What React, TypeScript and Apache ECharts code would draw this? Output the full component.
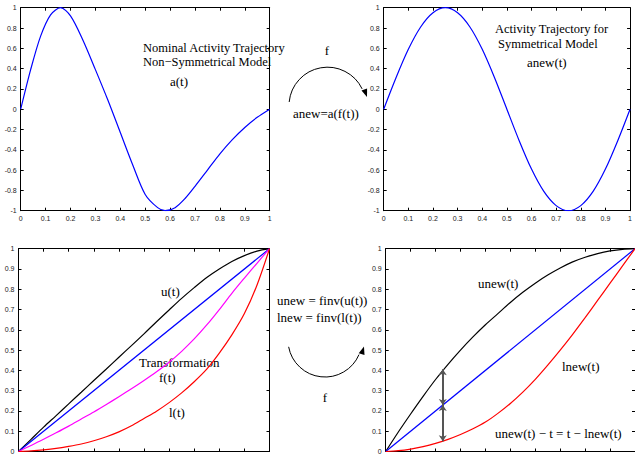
import React, { useEffect, useRef } from "react";
import * as echarts from "echarts";

// ---- data ----
const tNominal = [0, 0.04, 0.08, 0.12, 0.16, 0.2, 0.25, 0.3, 0.35, 0.4, 0.45, 0.5, 0.55, 0.58, 0.62, 0.66, 0.7, 0.75, 0.8, 0.85, 0.9, 0.95, 1];
const aNominal = [0, 0.39, 0.72, 0.93, 1.0, 0.92, 0.68, 0.39, 0.09, -0.23, -0.55, -0.84, -0.97, -1.0, -0.97, -0.88, -0.76, -0.6, -0.44, -0.3, -0.18, -0.08, 0];

const tSym = [0, 0.05, 0.1, 0.15, 0.2, 0.25, 0.3, 0.35, 0.4, 0.45, 0.5, 0.55, 0.6, 0.65, 0.7, 0.75, 0.8, 0.85, 0.9, 0.95, 1];
const aSym = [0, 0.31, 0.59, 0.81, 0.95, 1.0, 0.95, 0.81, 0.59, 0.31, 0, -0.31, -0.59, -0.81, -0.95, -1.0, -0.95, -0.81, -0.59, -0.31, 0];

const tGrid = [0, 0.05, 0.1, 0.15, 0.2, 0.25, 0.3, 0.35, 0.4, 0.45, 0.5, 0.55, 0.6, 0.65, 0.7, 0.75, 0.8, 0.85, 0.9, 0.95, 1];
const uCurve = [0, 0.06, 0.12, 0.177, 0.235, 0.292, 0.35, 0.407, 0.465, 0.522, 0.58, 0.64, 0.698, 0.755, 0.808, 0.858, 0.9, 0.937, 0.966, 0.988, 1];
const fCurve = [0, 0.03, 0.06, 0.092, 0.125, 0.16, 0.195, 0.232, 0.27, 0.309, 0.35, 0.393, 0.44, 0.494, 0.555, 0.624, 0.7, 0.78, 0.855, 0.928, 1];
const lCurve = [0, 0.003, 0.008, 0.015, 0.025, 0.037, 0.053, 0.073, 0.097, 0.127, 0.163, 0.199, 0.241, 0.289, 0.344, 0.406, 0.485, 0.575, 0.68, 0.82, 1];
const unewCurve = [0, 0.095, 0.185, 0.272, 0.355, 0.43, 0.5, 0.565, 0.625, 0.68, 0.735, 0.785, 0.83, 0.87, 0.905, 0.935, 0.958, 0.976, 0.989, 0.997, 1];
const lnewCurve = [0, 0.004, 0.012, 0.024, 0.04, 0.06, 0.084, 0.112, 0.145, 0.188, 0.237, 0.293, 0.356, 0.426, 0.5, 0.578, 0.66, 0.745, 0.83, 0.915, 1];
const diagT = [0, 1];
const diagV = [0, 1];

const arrowT = 0.229;
const arrowUpper = 0.406;
const arrowMid = 0.229;
const arrowLower = 0.05;

const pairs = (xs: number[], ys: number[]) => xs.map((x, i) => [x, ys[i]]);

const grids = [
  { left: 20.7, top: 7.7, width: 249, height: 203 },
  { left: 383.7, top: 7.7, width: 249.6, height: 203 },
  { left: 18.5, top: 248.7, width: 251, height: 203 },
  { left: 385.7, top: 248.7, width: 250, height: 203 },
];

const labelStyle = { fontSize: 7, color: "#222", fontFamily: "Liberation Sans" };

function makeX(gridIndex: number, position: "bottom" | "top", showLabel: boolean) {
  return {
    type: "value",
    gridIndex,
    position,
    min: 0,
    max: 1,
    interval: 0.1,
    axisLine: { show: true, onZero: false, lineStyle: { color: "#000", width: 1 } },
    axisTick: { show: true, inside: true, length: 3, lineStyle: { color: "#000" } },
    axisLabel: { show: showLabel, margin: 4, ...labelStyle },
    splitLine: { show: false },
  };
}

function makeY(gridIndex: number, position: "left" | "right", showLabel: boolean, top: boolean) {
  return {
    type: "value",
    gridIndex,
    position,
    min: top ? -1 : 0,
    max: 1,
    interval: top ? 0.2 : 0.1,
    axisLine: { show: true, onZero: false, lineStyle: { color: "#000", width: 1 } },
    axisTick: { show: true, inside: true, length: 3, lineStyle: { color: "#000" } },
    axisLabel: { show: showLabel, margin: 4, ...labelStyle },
    splitLine: { show: false },
  };
}

const xAxes: any[] = [];
const yAxes: any[] = [];
for (let g = 0; g < 4; g++) {
  xAxes.push(makeX(g, "bottom", g < 2));
  xAxes.push(makeX(g, "top", false));
  yAxes.push(makeY(g, "left", true, g < 2));
  yAxes.push(makeY(g, "right", false, g < 2));
}

function line(g: number, data: number[][], color: string, extra: any = {}) {
  return {
    type: "line",
    xAxisIndex: 2 * g,
    yAxisIndex: 2 * g,
    data,
    showSymbol: false,
    symbol: "none",
    smooth: 0.3,
    lineStyle: { color, width: 1.2 },
    silent: true,
    ...extra,
  };
}

const serif = "Liberation Serif";
function txt(text: string, x: number, y: number, align: string = "left", fontSize: number = 13) {
  return {
    type: "text",
    x,
    y,
    style: { text, fill: "#000", fontSize, fontFamily: serif, align, verticalAlign: "middle" },
    silent: true,
  };
}

const option: any = {
  animation: false,
  backgroundColor: "#fff",
  grid: grids,
  xAxis: xAxes,
  yAxis: yAxes,
  series: [
    line(0, pairs(tNominal, aNominal), "#0000ff"),
    line(1, pairs(tSym, aSym), "#0000ff"),
    line(2, pairs(tGrid, uCurve), "#000000"),
    line(2, pairs(diagT, diagV), "#0000ff", { smooth: false }),
    line(2, pairs(tGrid, fCurve), "#ff00ff"),
    line(2, pairs(tGrid, lCurve), "#ff0000"),
    line(3, pairs(tGrid, unewCurve), "#000000"),
    line(3, pairs(diagT, diagV), "#0000ff", {
      smooth: false,
      markLine: {
        silent: true,
        symbol: ["arrow", "arrow"],
        symbolSize: 6,
        lineStyle: { color: "#555", width: 2, type: "solid" },
        label: { show: false },
        emphasis: { disabled: true },
        data: [
          [{ coord: [arrowT, arrowUpper] }, { coord: [arrowT, arrowMid] }],
          [{ coord: [arrowT, arrowMid] }, { coord: [arrowT, arrowLower] }],
        ],
      },
    }),
    line(3, pairs(tGrid, lnewCurve), "#ff0000"),
  ],
  graphic: [
    txt("Nominal Activity Trajectory", 143, 48.3, "left", 12.5),
    txt("Non\u2212Symmetrical Model", 143, 62.3, "left", 12.5),
    txt("a(t)", 170, 81.5),
    txt("f", 327, 50, "center"),
    txt("anew=a(f(t))", 293, 113),
    txt("Activity Trajectory for", 495, 29.3, "left", 12.5),
    txt("Symmetrical Model", 498, 43.5, "left", 12.5),
    txt("anew(t)", 527, 62),
    txt("u(t)", 161, 291),
    txt("Transformation", 139, 362.5),
    txt("f(t)", 159, 377),
    txt("l(t)", 169, 412.5),
    txt("unew = finv(u(t))", 277, 300),
    txt("lnew = finv(l(t))", 277, 317),
    txt("f", 325, 397, "center"),
    txt("unew(t)", 478, 283),
    txt("lnew(t)", 562, 366),
    txt("unew(t) \u2212 t = t \u2212 lnew(t)", 495, 433),
    {
      type: "arc",
      shape: { cx: 327.5, cy: 105.7, r: 38.5, startAngle: 3.238, endAngle: 5.832, clockwise: true },
      style: { stroke: "#000", lineWidth: 1, fill: "none" },
      silent: true,
    },
    {
      type: "polygon",
      shape: { points: [[367, 97], [367.1, 88.5], [361.5, 90.5]] },
      style: { fill: "#000" },
      silent: true,
    },
    {
      type: "arc",
      shape: { cx: 325, cy: 340, r: 37, startAngle: 0.405, endAngle: 2.956, clockwise: true },
      style: { stroke: "#000", lineWidth: 1, fill: "none" },
      silent: true,
    },
    {
      type: "polygon",
      shape: { points: [[364, 346.5], [364.5, 355], [358.7, 353.2]] },
      style: { fill: "#000" },
      silent: true,
    },
  ],
};

export default function App() {
  const ref = useRef<HTMLDivElement>(null);
  useEffect(() => {
    const chart = echarts.init(ref.current!, null, { renderer: "svg" });
    chart.setOption(option);
    return () => chart.dispose();
  }, []);
  return (
    <div
      ref={ref}
      style={{ position: "fixed", left: 0, top: 0, width: 635, height: 455, background: "#fff" }}
    />
  );
}
